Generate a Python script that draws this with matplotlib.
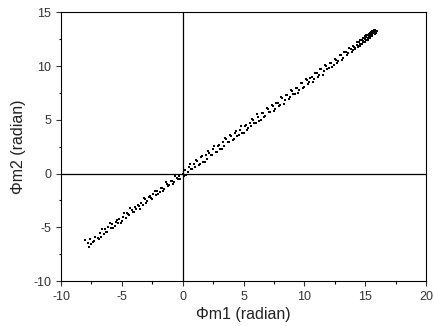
import matplotlib.pyplot as plt
from matplotlib.ticker import MultipleLocator

plt.rcParams['font.family'] = ['Liberation Sans', 'DejaVu Sans']
plt.rcParams['axes.unicode_minus'] = False

# points, lower-left to upper-right
phi_m1 = [-8.0, -7.8, -7.7, -7.5, -7.3, -7.0, -6.8, -6.7, -6.5, -6.4, -6.2, -6.1,
          -5.9, -5.8, -5.6, -5.5, -5.3, -5.2, -5.0, -4.9, -4.7, -4.6, -4.4, -4.2,
          -4.1, -3.9, -3.8, -3.6, -3.4, -3.3, -3.1, -2.9, -2.8, -2.6, -2.4, -2.2,
          -2.1, -1.9, -1.7, -1.5, -1.3, -1.1, -0.9, -0.7, -0.5, -0.3, -0.2, 0.0, 0.1,
          0.2, 0.4, 0.5, 0.7, 0.9, 1.0, 1.2, 1.4, 1.5, 1.7, 1.9, 2.0, 2.2, 2.4, 2.5,
          2.7, 2.9, 3.1, 3.3, 3.4, 3.6, 3.8, 4.0, 4.2, 4.3, 4.5, 4.7, 4.9, 5.1, 5.3,
          5.5, 5.6, 5.8, 6.0, 6.2, 6.4, 6.6, 6.8, 7.0, 7.2, 7.4, 7.6, 7.8, 8.0,
          8.2, 8.4, 8.6, 8.8, 9.0, 9.2, 9.4, 9.6, 9.8, 10.0, 10.2, 10.4, 10.6, 10.8,
          11.0, 11.2, 11.4, 11.6, 11.8, 12.0, 12.2, 12.4, 12.6, 12.8, 13.0, 13.2,
          13.4, 13.6, 13.8, 14.0,
          14.1, 14.2, 14.3, 14.4, 14.5, 14.5, 14.6, 14.7, 14.7, 14.8, 14.9, 14.9,
          15.0, 15.0, 15.1, 15.1, 15.2, 15.2, 15.3, 15.3, 15.4, 15.4, 15.5, 15.5,
          15.6, 15.6, 15.7, 15.7, 15.8, 15.8, 15.9, 14.6, 15.0, 15.3, 15.6,
          -7.6, -7.4, -7.2, -6.9, -6.6, -6.3, -6.0, -5.7, -5.4, -5.1, -4.8, -4.5,
          -4.3, -4.0, -3.7, -3.5, -3.2, -3.0, -2.7, -2.5, -2.3, -2.0, -1.8, -1.6,
          -1.4, -1.2, -1.0, -0.8, -0.6, -0.4, 0.3, 0.6, 0.8, 1.1, 1.3, 1.6, 1.8,
          2.1, 2.3, 2.6, 2.8, 3.0, 3.2, 3.5, 3.7, 3.9, 4.1, 4.4, 4.6, 4.8, 5.0,
          5.2, 5.4, 5.7, 5.9, 6.1, 6.3, 6.5, 6.7, 6.9, 7.1, 7.3, 7.5, 7.7, 7.9,
          8.1, 8.3, 8.5, 8.7, 8.9, 9.1, 9.3, 9.5, 9.7, 9.9, 10.1, 10.3, 10.5,
          10.7, 10.9, 11.1, 11.3, 11.5, 11.7, 11.9, 12.1, 12.3, 12.5, 12.7, 12.9,
          13.1, 13.3, 13.5, 13.7, 13.9, 14.0, 14.2, 14.3, 14.4, 14.6, 14.8, 14.8,
          15.0, 15.1, 15.2, 15.3, 15.4, 15.5, 15.6, 15.7, 15.8, 15.9, 16.0]
phi_m2 = [-6.2, -6.5, -6.8, -6.6, -6.3, -6.0, -5.5, -5.9, -5.6, -5.2, -5.4, -5.0,
          -5.1, -4.7, -4.9, -4.5, -4.6, -4.2, -4.4, -4.0, -4.1, -3.7, -3.9, -3.4,
          -3.6, -3.1, -3.3, -3.0, -2.7, -2.9, -2.4, -2.6, -2.2, -2.3, -1.9, -2.0,
          -1.6, -1.7, -1.3, -1.4, -1.0, -1.1, -0.7, -0.8, -0.4, -0.2, -0.5, 0.0, -0.2,
          0.3, 0.1, 0.6, 0.4, 0.9, 0.6, 1.2, 0.9, 1.5, 1.1, 1.7, 1.4, 1.9, 1.7, 2.3,
          2.0, 2.6, 2.3, 2.9, 2.6, 3.2, 2.9, 3.5, 3.2, 3.8, 3.5, 4.1, 3.8, 4.4, 4.1,
          4.7, 4.4, 5.0, 4.7, 5.3, 5.0, 5.6, 5.4, 6.0, 5.7, 6.3, 6.0, 6.6, 6.4,
          7.0, 6.8, 7.3, 7.1, 7.7, 7.4, 8.0, 7.8, 8.4, 8.1, 8.7, 8.5, 9.0, 8.8,
          9.4, 9.2, 9.7, 9.5, 10.0, 9.8, 10.3, 10.1, 10.6, 10.5, 11.0, 10.8,
          11.3, 11.2, 11.6, 11.5,
          11.8, 11.7, 12.0, 11.9, 12.2, 11.9, 12.1, 12.4, 12.1, 12.3, 12.6, 12.2,
          12.5, 12.8, 12.4, 12.7, 12.6, 12.9, 12.7, 13.0, 12.8, 13.1, 12.9, 13.2,
          13.0, 13.3, 13.1, 13.3, 13.2, 13.4, 13.3, 12.4, 12.6, 12.9, 13.1,
          -6.1, -6.4, -5.9, -6.1, -5.2, -5.4, -4.6, -5.1, -4.3, -4.6, -3.7, -3.8,
          -3.2, -3.6, -2.9, -3.3, -2.3, -2.7, -2.1, -2.4, -1.6, -1.9, -1.3, -1.6,
          -0.8, -1.2, -0.7, -1.0, -0.2, -0.5, -0.1, 0.9, 0.4, 1.3, 0.8, 1.6, 1.1,
          2.1, 1.7, 2.6, 2.0, 2.7, 2.3, 3.3, 2.9, 3.6, 3.1, 4.0, 3.6, 4.4, 3.8,
          4.5, 4.2, 5.1, 4.7, 5.5, 4.9, 5.6, 5.3, 6.1, 5.7, 6.4, 5.8, 6.6, 6.3,
          7.1, 6.5, 7.3, 6.9, 7.8, 7.4, 8.0, 7.5, 8.4, 8.0, 8.8, 8.3, 8.9,
          8.5, 9.4, 9.0, 9.7, 9.2, 10.1, 9.7, 10.3, 9.9, 10.7, 10.3, 11.0,
          10.6, 11.3, 11.0, 11.7, 11.3, 11.9, 11.6, 12.2, 11.8, 11.9, 12.6, 12.2,
          12.2, 12.9, 12.4, 13.0, 12.6, 13.1, 12.8, 13.4, 13.0, 13.1, 13.3]

fig = plt.figure(figsize=(4.34, 3.26), dpi=100)
ax = fig.add_axes([0.1406, 0.138, 0.841, 0.824])

ax.scatter(phi_m1, phi_m2, s=3.2, marker='s', color='black', linewidths=0)
ax.axhline(0, color='black', lw=0.9)
ax.axvline(0, color='black', lw=0.9)

ax.set_xlim(-10, 20)
ax.set_ylim(-10, 15)
ax.xaxis.set_major_locator(MultipleLocator(5))
ax.yaxis.set_major_locator(MultipleLocator(5))
ax.xaxis.set_minor_locator(MultipleLocator(2.5))
ax.yaxis.set_minor_locator(MultipleLocator(2.5))
ax.tick_params(which='major', direction='out', length=3.6, width=0.8,
               labelsize=9, colors='#333333', labelcolor='#333333')
ax.tick_params(which='minor', direction='out', length=1.8, width=0.8)
for sp in ax.spines.values():
    sp.set_linewidth(0.8)

ax.set_xlabel('Φm1 (radian)', fontsize=11.5, labelpad=3, color='#222222')
ax.set_ylabel('Φm2 (radian)', fontsize=11.5, labelpad=5, color='#222222')

fig.savefig('out.png', dpi=100)
